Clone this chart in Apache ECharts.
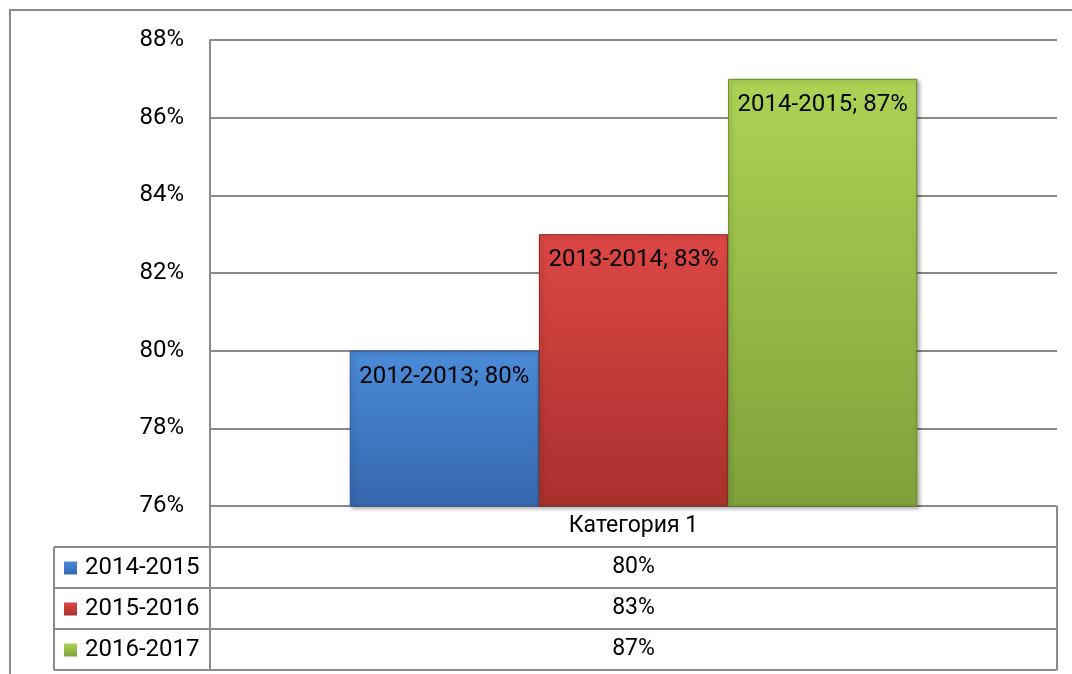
<!DOCTYPE html>
<html lang="ru">
<head>
    <meta charset="UTF-8">
    <title>Категория 1</title>
    <script src="https://cdn.jsdelivr.net/npm/echarts@6/dist/echarts.min.js"></script>
</head>
<body style="margin:0;background:#fff">
<div id="chart" style="width:1072px;height:674px"></div>
<script>
    // data
    let categories = ['Категория 1'];
    let seriesNames = ['2014-2015', '2015-2016', '2016-2017'];
    let labelNames = ['2012-2013', '2013-2014', '2014-2015'];
    let values = [0.80, 0.83, 0.87];
    let yTicks = [0.76, 0.78, 0.80, 0.82, 0.84, 0.86, 0.88];

    let colors = [
        ['#4b8bd8', '#3567ad', '#2d5a98'],
        ['#dc4744', '#a9302e', '#8f2a28'],
        ['#acd354', '#7fa03a', '#6d8c30']
    ];
    let fontName = 'Roboto, "Noto Sans", sans-serif';
    let lineColor = '#8a8a8a';

    let chart = echarts.init(document.getElementById('chart'), null, {renderer: 'canvas'});

    let pct = v => Math.round(v * 100) + '%';

    let series = seriesNames.map((name, i) => ({
        name: name,
        type: 'bar',
        barGap: '0%',
        barCategoryGap: '33%',
        data: [values[i]],
        itemStyle: {
            color: new echarts.graphic.LinearGradient(0, 0, 0, 1, [
                {offset: 0, color: colors[i][0]},
                {offset: 1, color: colors[i][1]}
            ]),
            borderColor: colors[i][2],
            borderWidth: 1,
            shadowColor: 'rgba(0,0,0,0.35)',
            shadowBlur: 4,
            shadowOffsetX: 2,
            shadowOffsetY: 2
        },
        label: {
            show: true,
            position: 'insideTop',
            distance: 14,
            fontFamily: fontName,
            fontSize: 24,
            color: '#000',
            formatter: () => labelNames[i] + '; ' + pct(values[i])
        }
    }));

    // data table below the plot
    let tl = 54, tx = 210, tr = 1057, ty = 506, rowH = 41;
    let graphics = [
        {type: 'rect', shape: {x: 10, y: 10, width: 1080, height: 700}, style: {fill: 'none', stroke: lineColor, lineWidth: 2}},
        {type: 'line', shape: {x1: tx, y1: ty + rowH, x2: tx, y2: ty + rowH * 4}, style: {stroke: lineColor, lineWidth: 2}},
        {type: 'line', shape: {x1: tr, y1: ty, x2: tr, y2: ty + rowH * 4}, style: {stroke: lineColor, lineWidth: 2}},
        {type: 'line', shape: {x1: tl, y1: ty + rowH, x2: tl, y2: ty + rowH * 4}, style: {stroke: lineColor, lineWidth: 2}},
        {type: 'line', shape: {x1: tx, y1: ty, x2: tx, y2: ty + rowH}, style: {stroke: lineColor, lineWidth: 2}},
        {type: 'text', x: (tx + tr) / 2, y: ty + rowH / 2, style: {text: categories[0], fontFamily: fontName, fontSize: 23, fill: '#000', align: 'center', verticalAlign: 'middle'}}
    ];
    for (let r = 1; r <= 4; r++) {
        graphics.push({type: 'line', shape: {x1: tl, y1: ty + rowH * r, x2: tr, y2: ty + rowH * r}, style: {stroke: lineColor, lineWidth: 2}});
    }
    seriesNames.forEach((name, i) => {
        let cy = ty + rowH * (i + 1) + rowH / 2;
        graphics.push({
            type: 'rect', shape: {x: 64, y: cy - 6, width: 13, height: 13},
            style: {fill: new echarts.graphic.LinearGradient(0, 0, 0, 1, [
                {offset: 0, color: colors[i][0]}, {offset: 1, color: colors[i][1]}
            ])}
        });
        graphics.push({type: 'text', x: 85, y: cy, style: {text: name, fontFamily: fontName, fontSize: 24, fill: '#000', verticalAlign: 'middle'}});
        graphics.push({type: 'text', x: (tx + tr) / 2, y: cy, style: {text: pct(values[i]), fontFamily: fontName, fontSize: 23, fill: '#000', align: 'center', verticalAlign: 'middle'}});
    });

    let option = {
        animation: false,
        grid: {left: 210, right: 15, top: 40, bottom: 168, containLabel: false},
        xAxis: {
            type: 'category',
            data: categories,
            axisLine: {show: false},
            axisTick: {show: false},
            axisLabel: {show: false}
        },
        yAxis: {
            type: 'value',
            min: yTicks[0],
            max: yTicks[yTicks.length - 1],
            interval: 0.02,
            axisLine: {show: true, lineStyle: {color: lineColor, width: 2}},
            axisTick: {show: false},
            axisLabel: {
                fontFamily: fontName,
                fontSize: 24,
                color: '#000',
                margin: 26,
                formatter: v => pct(v)
            },
            splitLine: {lineStyle: {color: lineColor, width: 2}}
        },
        series: series,
        graphic: graphics
    };
    chart.setOption(option);
</script>
</body>
</html>
